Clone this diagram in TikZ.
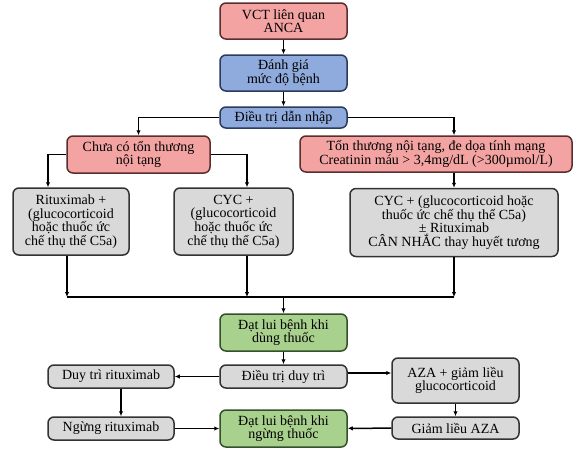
\documentclass[tikz,border=0pt]{standalone}
\usepackage{fontspec}
\setmainfont{Liberation Serif}
\newfontfamily\boxfont{Liberation Serif}
\usetikzlibrary{arrows.meta, positioning}

\definecolor{pinkfill}{HTML}{F4A3A3}
\definecolor{pinkline}{HTML}{5A2E2E}
\definecolor{bluefill}{HTML}{8FAADC}
\definecolor{blueline}{HTML}{2A3B5C}
\definecolor{greenfill}{HTML}{A9D18E}
\definecolor{greenline}{HTML}{34502A}
\definecolor{greyfill}{HTML}{D9D9D9}
\definecolor{greyline}{HTML}{333333}

\begin{document}
\begin{tikzpicture}[x=1pt, y=-1pt,
    box/.style={draw, line width=1.5pt, rounded corners=6pt, align=center, inner sep=1pt,
      font=\boxfont\fontsize{14}{13.6}\selectfont},
    redbox/.style={box, fill=pinkfill, draw=pinkline},
    bluebox/.style={box, fill=bluefill, draw=blueline},
    greenbox/.style={box, fill=greenfill, draw=greenline},
    greybox/.style={box, fill=greyfill, draw=greyline},
    arr/.style={-{Latex[length=5pt, width=4.5pt]}, line width=1.5pt},
    link/.style={line width=1.5pt}]
    \fill[white] (0,0) rectangle (576,451);
    \useasboundingbox (0,0) rectangle (576,451);

    % induction
    \node[redbox, minimum width=127pt, minimum height=36pt] (vct) at (283.5,21) {VCT liên quan\\ANCA};
    \node[bluebox, minimum width=127pt, minimum height=36pt] (assess) at (283.5,73) {Đánh giá\\mức độ bệnh};
    \node[bluebox, minimum width=127pt, minimum height=21pt] (induct) at (283.5,117.5) {Điều trị dẫn nhập};
    \node[redbox, minimum width=143pt, minimum height=37pt] (mild) at (138.5,154.5) {Chưa có tổn thương\\nội tạng};
    \node[redbox, minimum width=272pt, minimum height=36pt] (severe) at (436,154) {Tổn thương nội tạng, đe dọa tính mạng\\Creatinin máu > 3,4mg/dL (>300µmol/L)};
    \node[greybox, minimum width=116pt, minimum height=67pt] (ritux) at (71,221.5) {Rituximab +\\(glucocorticoid\\hoặc thuốc ức\\chế thụ thể C5a)};
    \node[greybox, minimum width=119pt, minimum height=67pt] (cyc) at (233.5,221.5) {CYC +\\(glucocorticoid\\hoặc thuốc ức\\chế thụ thể C5a)};
    \node[greybox, minimum width=208pt, minimum height=68pt] (cycplus) at (454,222.5) {CYC + (glucocorticoid hoặc\\thuốc ức chế thụ thể C5a)\\± Rituximab\\CÂN NHẮC thay huyết tương};

    % maintenance
    \node[greenbox, minimum width=127pt, minimum height=37pt] (remiton) at (283.5,332.5) {Đạt lui bệnh khi\\dùng thuốc};
    \node[greybox, minimum width=127pt, minimum height=23pt] (maint) at (283.5,376.5) {Điều trị duy trì};
    \node[greybox, minimum width=126pt, minimum height=23pt] (keepr) at (111,376.5) {Duy trì rituximab};
    \node[greybox, minimum width=127pt, minimum height=45pt] (aza) at (455.5,380.5) {AZA + giảm liều\\glucocorticoid};
    \node[greybox, minimum width=126pt, minimum height=23pt] (stopr) at (111,428.5) {Ngừng rituximab};
    \node[greenbox, minimum width=127pt, minimum height=37pt] (remitoff) at (283.5,428.5) {Đạt lui bệnh khi\\ngừng thuốc};
    \node[greybox, minimum width=127pt, minimum height=22pt] (azalow) at (455.5,428) {Giảm liều AZA};
    \coordinate (join) at (283.5,297);

    \draw[arr] (vct) -- (assess);
    \draw[arr] (assess) -- (induct);
    \draw[arr] (induct.west) -| (mild.north);
    \draw[arr] (induct.east) -| (severe.north -| cycplus.north);
    \draw[arr] (mild.west) -| ([xshift=-23pt]ritux.north);
    \draw[arr] (mild.east) -| ([xshift=13.5pt]cyc.north);
    \draw[arr] (severe.south -| cycplus.north) -- (cycplus.north);
    \draw[arr] ([xshift=-4pt]ritux.south) -- ([xshift=-4pt]ritux.south |- join);
    \draw[arr] ([xshift=13.5pt]cyc.south) -- ([xshift=13.5pt]cyc.south |- join);
    \draw[arr] (cycplus.south) -- (cycplus.south |- join);
    \draw[link] ([xshift=-4pt]ritux.south |- join) -- (cycplus.south |- join);
    \draw[arr] (join) -- (remiton.north);
    \draw[arr] (remiton) -- (maint);
    \draw[arr] (maint) -- (keepr);
    \draw[arr] ([yshift=3.5pt]maint.east) -- ([yshift=3.5pt]maint.east -| aza.west);
    \draw[arr] ([xshift=10pt]keepr.south) -- ([xshift=10pt]stopr.north);
    \draw[arr] (aza) -- (azalow);
    \draw[arr] (stopr) -- (remitoff);
    \draw[arr] (azalow) -- (remitoff);
\end{tikzpicture}
\end{document}
